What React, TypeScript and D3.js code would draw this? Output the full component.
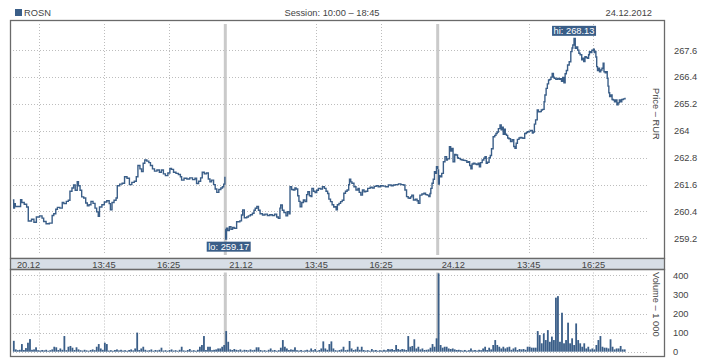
import React from "react";
import * as d3 from "d3";

const ticker = "ROSN";
const sessionText = "Session: 10:00 – 18:45";
const dateText = "24.12.2012";
const days = ["20.12", "21.12", "24.12"];
const sessionStart = "10:00";
const sessionEnd = "18:45";
const timeTicks = ["13:45", "16:25"];
const firstDayExtraGrid = ["11:05"];
const priceTicks = [259.2, 260.4, 261.6, 262.8, 264, 265.2, 266.4, 267.6];
const volumeTicks = [0, 100, 200, 300, 400];
const volumeStep = 5; // minutes per volume bar

// [minutes after session start, price]
const day1Price: [number, number][] = [
  [0, 260.91], [2, 260.55], [4, 260.75], [6, 260.62], [19, 260.93], [22, 260.8], [28, 260.72], [34, 260.6],
  [38, 259.97], [46, 260.05], [52, 259.92], [58, 260.15], [66, 260.2], [72, 260.1], [76, 259.95], [82, 259.85],
  [90, 259.88], [97, 260.22], [101, 260.3], [106, 260.5], [110, 260.58], [116, 260.55], [122, 260.8], [126, 260.75],
  [132, 260.85], [137, 260.9], [141, 261.3], [146, 261.45], [150, 261.58], [154, 261.35], [159, 261.73], [162, 261.55],
  [166, 261.35], [170, 261.05], [175, 261.0], [180, 260.78], [184, 260.65], [188, 260.7], [193, 260.85], [198, 260.76],
  [203, 260.55], [207, 260.38], [211, 260.18], [214, 260.6], [220, 260.7], [226, 260.82], [232, 260.88], [238, 260.75],
  [241, 260.47], [245, 260.8], [250, 260.9], [255, 261.0], [258, 261.55], [264, 261.62], [270, 261.66], [276, 261.95],
  [282, 261.88], [288, 261.6], [294, 261.7], [300, 261.75], [305, 261.95], [309, 262.45], [314, 262.3], [318, 262.18],
  [322, 262.55], [326, 262.7], [331, 262.65], [336, 262.58], [340, 262.45], [345, 262.3], [350, 262.2], [356, 262.25],
  [362, 262.15], [367, 262.25], [372, 262.08], [377, 262.0], [383, 262.12], [388, 262.32], [392, 262.28], [397, 262.15],
  [403, 262.1], [409, 262.05], [414, 261.95], [417, 261.8], [423, 261.88], [430, 261.85], [437, 261.9], [444, 261.82],
  [450, 261.88], [454, 261.65], [459, 261.75], [464, 261.9], [468, 262.15], [473, 262.08], [478, 262.12], [483, 261.85],
  [487, 261.72], [491, 261.8], [496, 261.6], [500, 261.4], [504, 261.25], [509, 261.38], [514, 261.45], [518, 261.5],
  [521, 261.62], [524, 261.95],
];

const day2Price: [number, number][] = [
  [0, 259.6], [1, 259.17], [3, 259.65], [6, 259.55], [10, 259.72], [14, 259.6], [18, 259.68], [22, 259.65],
  [28, 259.94], [36, 259.98], [40, 260.24], [43, 260.47], [47, 260.12], [53, 260.15], [57, 260.2], [62, 260.25],
  [67, 260.32], [71, 260.45], [74, 260.54], [78, 260.62], [82, 260.45], [86, 260.3], [92, 260.24], [98, 260.28],
  [104, 260.22], [110, 260.25], [116, 260.22], [122, 260.28], [127, 260.15], [131, 260.09], [135, 260.55], [137, 260.69],
  [141, 260.45], [145, 260.35], [150, 260.2], [154, 260.39], [158, 260.3], [160, 261.5], [164, 261.38], [168, 261.36],
  [172, 261.45], [175, 261.4], [179, 261.1], [182, 260.85], [185, 260.61], [189, 260.8], [193, 260.91], [197, 260.84],
  [201, 261.15], [204, 261.28], [208, 261.1], [212, 261.06], [214, 261.43], [218, 261.3], [222, 261.24], [226, 261.35],
  [230, 261.43], [235, 261.4], [240, 261.5], [245, 261.43], [249, 261.3], [253, 261.2], [256, 260.95], [260, 260.84],
  [264, 260.7], [268, 260.6], [271, 260.61], [274, 260.47], [277, 260.7], [281, 260.76], [285, 260.84], [289, 260.9],
  [293, 261.21], [297, 261.3], [301, 261.36], [305, 261.6], [307, 261.84], [310, 261.72], [313, 261.66], [318, 261.5],
  [323, 261.36], [328, 261.43], [331, 261.25], [335, 261.13], [339, 261.36], [343, 261.28], [347, 261.3], [352, 261.43],
  [358, 261.48], [363, 261.45], [368, 261.52], [373, 261.55], [378, 261.5], [384, 261.55], [390, 261.53], [396, 261.5],
  [403, 261.58], [410, 261.55], [415, 261.58], [421, 261.6], [428, 261.63], [434, 261.6], [440, 261.58], [444, 261.36],
  [448, 261.06], [452, 261.0], [455, 260.99], [458, 261.05], [461, 261.13], [465, 260.91], [470, 260.95], [474, 260.88],
  [477, 260.76], [481, 261.13], [486, 261.18], [491, 261.21], [495, 261.15], [499, 261.13], [503, 261.06], [506, 261.2],
  [508, 261.43], [511, 261.66], [514, 261.84], [517, 262.18], [520, 262.1], [522, 262.4], [525, 262.3],
];

const day3Price: [number, number][] = [
  [0, 262.25], [2, 261.62], [4, 262.0], [6, 261.95], [10, 262.1], [14, 262.62], [18, 262.85], [22, 262.7],
  [24, 262.75], [29, 263.29], [32, 263.1], [35, 263.22], [38, 262.62], [42, 262.95], [45, 262.92], [49, 262.8],
  [51, 262.77], [56, 262.72], [60, 262.7], [64, 262.68], [68, 262.67], [72, 262.6], [76, 262.62], [79, 262.45],
  [82, 262.3], [85, 262.52], [88, 262.55], [92, 262.52], [96, 262.5], [100, 262.55], [103, 262.4], [106, 262.58],
  [110, 262.7], [114, 262.78], [117, 262.85], [120, 262.55], [123, 262.6], [127, 262.8], [130, 262.9], [133, 263.2],
  [137, 263.74], [141, 263.8], [144, 263.88], [147, 263.95], [150, 264.1], [154, 264.26], [157, 264.05], [159, 264.16],
  [162, 263.85], [164, 264.07], [167, 263.85], [170, 263.8], [173, 263.68], [176, 263.65], [180, 263.52], [184, 263.6],
  [188, 263.3], [191, 263.22], [194, 263.45], [197, 263.62], [201, 263.68], [204, 263.71], [208, 263.68], [211, 263.67],
  [215, 263.88], [219, 263.92], [222, 263.96], [226, 263.99], [230, 264.02], [234, 263.9], [236, 263.95], [239, 264.3],
  [242, 264.49], [246, 264.93], [249, 264.85], [253, 264.86], [256, 264.93], [259, 264.96], [263, 265.3], [265, 265.6],
  [268, 265.9], [271, 266.1], [274, 266.27], [277, 266.3], [280, 266.4], [283, 266.57], [286, 266.4], [288, 266.35],
  [292, 266.3], [296, 266.34], [300, 266.3], [303, 266.33], [306, 266.22], [309, 266.39], [312, 266.15], [315, 266.55],
  [318, 266.7], [321, 266.94], [325, 267.09], [329, 267.54], [332, 267.7], [334, 267.84], [337, 268.13], [340, 267.69],
  [343, 267.75], [346, 267.61], [349, 267.47], [352, 267.4], [356, 267.17], [359, 267.25], [361, 267.1], [364, 267.31],
  [367, 267.28], [370, 267.24], [373, 267.4], [375, 267.54], [378, 267.5], [381, 267.6], [385, 267.65], [387, 267.5],
  [389, 267.55], [391, 267.3], [393, 266.87], [395, 266.7], [397, 266.8], [400, 266.64], [403, 266.72], [406, 266.8],
  [409, 267.02], [411, 266.64], [414, 266.6], [417, 266.64], [419, 266.35], [421, 266.0], [423, 265.7], [425, 265.53],
  [428, 265.6], [431, 265.4], [434, 265.38], [437, 265.3], [440, 265.38], [443, 265.16], [446, 265.25], [449, 265.38],
  [452, 265.3], [455, 265.4], [459, 265.43], [463, 265.48],
];

// volume (thousands) in 5-minute buckets
const day1Volume = [
  57, 12, 8, 10, 40, 9, 19, 47, 66, 10, 12, 23, 8, 6, 9, 7, 10, 5, 8, 12,
  26, 23, 9, 17, 10, 82, 8, 26, 30, 21, 9, 23, 12, 8, 6, 10, 7, 5, 9, 12,
  8, 26, 40, 17, 10, 47, 40, 6, 8, 5, 9, 12, 7, 10, 6, 8, 5, 9, 12, 7,
  17, 100, 9, 17, 26, 10, 6, 8, 12, 5, 9, 7, 10, 21, 6, 8, 5, 9, 12, 6,
  8, 5, 10, 26, 7, 5, 9, 14, 6, 8, 5, 10, 26, 35, 82, 9, 26, 26, 8, 10,
  12, 17, 17, 26, 35,
];
const day2Volume = [
  108, 52, 12, 9, 14, 10, 8, 12, 6, 10, 9, 7, 12, 8, 10, 23, 23, 9, 6, 8,
  5, 10, 17, 7, 9, 5, 8, 21, 61, 26, 17, 9, 12, 10, 23, 8, 6, 9, 5, 7,
  10, 6, 17, 8, 14, 5, 9, 17, 54, 17, 10, 40, 54, 17, 8, 6, 9, 12, 26, 8,
  10, 56, 17, 9, 12, 26, 10, 26, 9, 6, 8, 5, 14, 7, 9, 5, 8, 6, 10, 7,
  14, 12, 14, 9, 35, 14, 10, 14, 12, 9, 82, 26, 30, 65, 17, 26, 12, 17, 9, 10,
  12, 21, 40, 26, 70,
];
const day3Volume = [
  410, 35, 21, 26, 26, 17, 14, 17, 12, 9, 10, 8, 6, 9, 5, 8, 17, 7, 9, 6,
  10, 8, 17, 26, 9, 21, 12, 35, 61, 35, 26, 17, 26, 17, 23, 26, 10, 17, 23, 9,
  14, 12, 14, 10, 26, 26, 21, 21, 21, 108, 87, 44, 96, 61, 113, 52, 79, 61, 283, 291,
  52, 204, 44, 61, 152, 44, 70, 35, 148, 61, 44, 26, 44, 17, 26, 12, 17, 12, 35, 61,
  82, 26, 21, 21, 17, 65, 26, 12, 17, 17, 30, 12, 12,
];

const priceSeries = [day1Price, day2Price, day3Price];
const volumeSeries = [day1Volume, day2Volume, day3Volume];

const BLUE = "#3a5e88";
const FONT = "'Liberation Sans', Arial, sans-serif";
const TEXT = "#444";

const toMin = (t: string) => {
  const [h, m] = t.split(":").map(Number);
  return h * 60 + m;
};

export default function App() {
  const sessionLen = toMin(sessionEnd) - toMin(sessionStart);
  const x = d3.scaleLinear().domain([0, days.length * sessionLen]).range([12.9, 650.1]);
  const tx = (day: number, m: number) => x(day * sessionLen + m);
  const yP = d3.scaleLinear().domain([259.2, 267.6]).range([238.3, 50.3]);
  const yV = d3.scaleLinear().domain([0, 400]).range([351.7, 275.3]);

  const left = 10.5, right = 664.5, top = 20.5, priceBottom = 258.5, bandBottom = 269.5, bottom = 356.5;
  const gridL = 13, gridR = 648.5;

  const line = (day: number) =>
    d3.line<[number, number]>()
      .x((d) => tx(day, d[0]))
      .y((d) => yP(d[1]))
      .curve(d3.curveStepAfter);

  // hi / lo
  let hi = { day: 0, m: 0, v: -Infinity };
  let lo = { day: 0, m: 0, v: Infinity };
  priceSeries.forEach((s, di) =>
    s.forEach(([m, v]) => {
      if (v > hi.v) hi = { day: di, m, v };
      if (v < lo.v) lo = { day: di, m, v };
    })
  );
  const hiX = tx(hi.day, hi.m), hiY = yP(hi.v);
  const loX = tx(lo.day, lo.m), loY = yP(lo.v);
  const boxW = 44, boxH = 10;

  const vGrid: number[] = [];
  const timeLabels: { x: number; t: string }[] = [];
  days.forEach((_, di) => {
    if (di === 0) firstDayExtraGrid.forEach((t) => vGrid.push(tx(di, toMin(t) - toMin(sessionStart))));
    timeTicks.forEach((t) => {
      const xx = tx(di, toMin(t) - toMin(sessionStart));
      vGrid.push(xx);
      timeLabels.push({ x: xx, t });
    });
  });
  const separators = days.slice(1).map((_, i) => tx(i + 1, 0));

  return (
    <svg width={718} height={360} style={{ position: "absolute", left: 0, top: 0, background: "#fff" }} fontFamily={FONT}>
      {/* header */}
      <rect x={15} y={9} width={7} height={7} fill={BLUE} />
      <text x={24} y={16.2} fontSize={9.3} fill={TEXT}>{ticker}</text>
      <text x={332} y={16.2} fontSize={9.3} fill={TEXT} textAnchor="middle">{sessionText}</text>
      <text x={652} y={16.2} fontSize={9.3} fill={TEXT} textAnchor="end">{dateText}</text>

      {/* price grid */}
      {priceTicks.map((p) => (
        <line key={"hp" + p} x1={gridL} x2={gridR} y1={Math.round(yP(p)) + 0.5} y2={Math.round(yP(p)) + 0.5}
          stroke="#bdbdbd" strokeDasharray="1,2" />
      ))}
      {vGrid.map((gx, i) => (
        <g key={"vg" + i}>
          <line x1={Math.round(gx) + 0.5} x2={Math.round(gx) + 0.5} y1={24} y2={255} stroke="#bdbdbd" strokeDasharray="1,2" />
          <line x1={Math.round(gx) + 0.5} x2={Math.round(gx) + 0.5} y1={272.5} y2={352} stroke="#bdbdbd" strokeDasharray="1,2" />
        </g>
      ))}
      {volumeTicks.map((v) => (
        <line key={"hv" + v} x1={gridL} x2={gridR} y1={Math.round(yV(v)) + 0.5} y2={Math.round(yV(v)) + 0.5}
          stroke="#bdbdbd" strokeDasharray="1,2" />
      ))}

      {/* day separators */}
      {separators.map((sx, i) => (
        <g key={"sep" + i}>
          <rect x={sx - 1.5} y={24} width={3} height={231} fill="#cacaca" />
          <rect x={sx - 1.5} y={272.5} width={3} height={79.5} fill="#cacaca" />
        </g>
      ))}

      {/* price lines */}
      {priceSeries.map((s, di) => (
        <path key={"pl" + di} d={line(di)(s) || ""} fill="none" stroke={BLUE} strokeWidth={1.4} />
      ))}

      {/* volume bars */}
      {volumeSeries.map((vals, di) =>
        vals.map((v, i) => (
          <rect key={"vb" + di + "-" + i} x={tx(di, i * volumeStep)} y={yV(v)} width={1.8}
            height={yV(0) - yV(v)} fill={BLUE} />
        ))
      )}

      {/* hi / lo labels */}
      <rect x={hiX - boxW / 2} y={hiY - 2.6 - boxH} width={boxW} height={boxH} fill={BLUE} />
      <text x={hiX} y={hiY - 4.4} fontSize={9.3} fill="#fff" textAnchor="middle">{"hi: " + hi.v.toFixed(2)}</text>
      <rect x={loX - boxW / 2 + 3} y={loY + 2.7} width={boxW} height={boxH} fill={BLUE} />
      <text x={loX + 3} y={loY + 10.9} fontSize={9.3} fill="#fff" textAnchor="middle">{"lo: " + lo.v.toFixed(2)}</text>

      {/* frames */}
      <rect x={left} y={top} width={right - left} height={priceBottom - top} fill="none" stroke="#6a6a6a" strokeWidth={1.3} />
      <rect x={left} y={priceBottom} width={right - left} height={bandBottom - priceBottom} fill="#d7dee6" stroke="#6a6a6a" strokeWidth={1.3} />
      <rect x={left} y={bandBottom} width={right - left} height={bottom - bandBottom} fill="none" stroke="#6a6a6a" strokeWidth={1.3} />

      {/* time axis labels */}
      {days.map((d, di) => (
        <text key={"dl" + di} x={tx(di, 0) + 4} y={267.6} fontSize={9.3} fill={TEXT}>{d}</text>
      ))}
      {timeLabels.map((l, i) => (
        <text key={"tl" + i} x={l.x} y={267.6} fontSize={9.3} fill={TEXT} textAnchor="middle">{l.t}</text>
      ))}

      {/* right axes */}
      {priceTicks.map((p) => (
        <text key={"pt" + p} x={674} y={yP(p) + 3.3} fontSize={9.3} fill={TEXT}>{String(+p.toFixed(1))}</text>
      ))}
      {volumeTicks.map((v) => (
        <text key={"vt" + v} x={673} y={yV(v) + 3.3} fontSize={9.3} fill={TEXT}>{v}</text>
      ))}
      <text transform="translate(653.3,88) rotate(90)" fontSize={9.3} fill={TEXT}>Price – RUR</text>
      <text transform="translate(653.3,272) rotate(90)" fontSize={9.3} fill={TEXT}>Volume – 1 000</text>
    </svg>
  );
}
